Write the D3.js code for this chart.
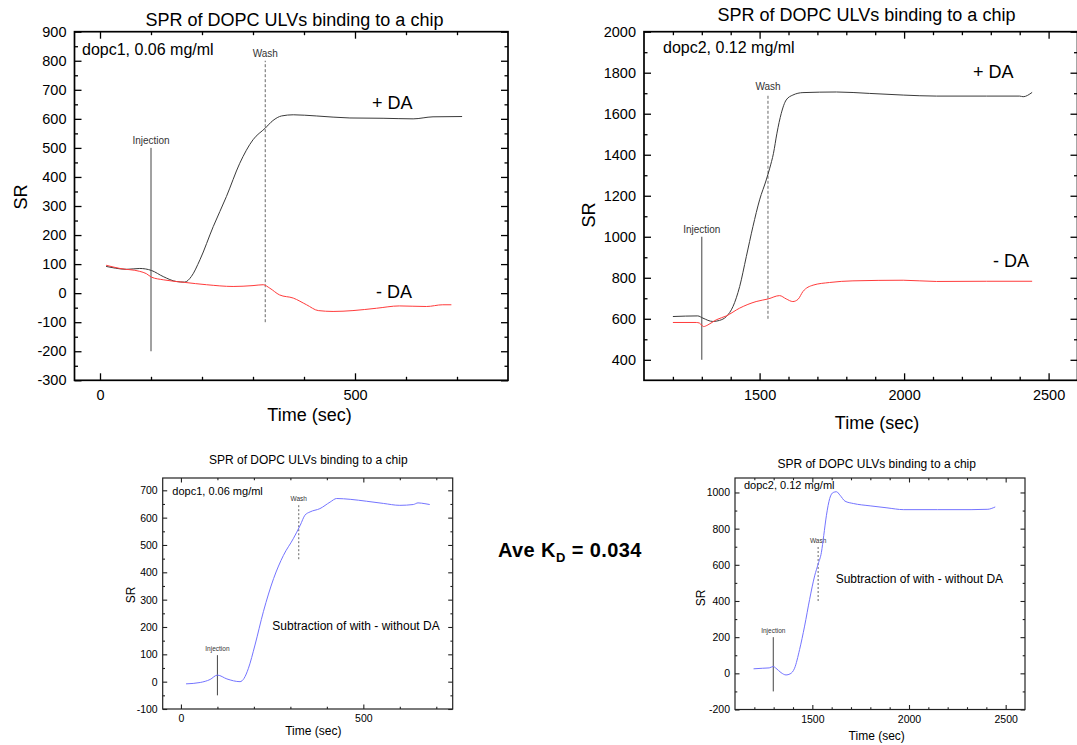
<!DOCTYPE html>
<html>
<head>
<meta charset="utf-8">
<script src="https://cdn.jsdelivr.net/npm/d3@7"></script>
<style>
body { margin: 0; background: #fff; }
text { font-family: "Liberation Sans", Arial, sans-serif; }
</style>
</head>
<body>
<script>
// ---- valori ----

// pannello 1: dopc1, 0.06 mg/ml (con / senza DA)
const dopc1PlusTime  = [12, 30, 52, 78, 101, 124, 150, 166, 179, 196, 222, 248, 274, 300, 324, 339, 356, 379, 424, 490, 555, 614, 653, 710];
const dopc1PlusSR    = [92, 86, 82, 85, 78, 57, 40, 38, 57, 115, 229, 333, 447, 528, 568, 594, 610, 614, 610, 603, 602, 600, 607, 608];
const dopc1MinusTime = [12, 39, 78, 91, 101, 124, 166, 209, 261, 300, 320, 333, 352, 379, 405, 428, 457, 496, 542, 587, 640, 672, 689];
const dopc1MinusSR   = [96, 85, 75, 67, 55, 46, 37, 29, 23, 26, 29, 17, -6, -17, -40, -60, -63, -60, -52, -44, -46, -40, -40];

// pannello 2: dopc2, 0.12 mg/ml
const dopc2PlusTime  = [1200, 1286, 1304, 1338, 1361, 1385, 1408, 1431, 1454, 1477, 1500, 1523, 1535, 1548, 1560, 1575, 1592, 1615, 1650, 1766, 1881, 1997, 2112, 2285, 2400, 2412, 2443];
const dopc2PlusSR    = [611, 614, 603, 587, 592, 611, 660, 757, 903, 1050, 1180, 1277, 1334, 1407, 1505, 1602, 1667, 1691, 1703, 1706, 1699, 1691, 1686, 1686, 1686, 1683, 1704];
const dopc2MinusTime = [1200, 1281, 1292, 1306, 1321, 1350, 1385, 1431, 1488, 1530, 1569, 1592, 1615, 1633, 1650, 1685, 1742, 1823, 1997, 2112, 2285, 2443];
const dopc2MinusSR   = [582, 582, 579, 562, 570, 595, 614, 652, 684, 697, 713, 697, 684, 695, 733, 764, 777, 785, 788, 782, 783, 783];

// pannello 3: sottrazione dopc1
const diff1Time = [14, 53, 80, 100, 126, 162, 173, 185, 203, 226, 254, 281, 308, 327, 340, 354, 381, 409, 427, 464, 509, 555, 600, 637, 650, 669, 682];
const diff1SR   = [-8, -3, 8, 24, 10, 0, 12, 49, 134, 256, 377, 462, 523, 572, 609, 621, 633, 657, 670, 667, 660, 652, 645, 648, 654, 651, 648];

// pannello 4: sottrazione dopc2
const diff2Time = [1196, 1243, 1277, 1298, 1312, 1338, 1364, 1385, 1408, 1434, 1460, 1486, 1512, 1530, 1547, 1559, 1573, 1590, 1608, 1625, 1643, 1669, 1712, 1799, 1886, 1973, 2147, 2321, 2408, 2425, 2446];
const diff2SR   = [25, 28, 30, 38, 28, 4, -9, -3, 28, 131, 261, 409, 539, 604, 669, 762, 874, 967, 1000, 1004, 985, 952, 939, 926, 915, 905, 905, 905, 907, 911, 920];

// injection / wash: [tempo, SR basso, SR alto]
const injection1 = [100, -200, 500];
const wash1      = [324, -100, 800];
const injection2 = [1300, 400, 1000];
const wash2      = [1529, 600, 1695];
const injection3 = [100, -50, 97];
const wash3      = [323, 448, 648];
const injection4 = [1298, -100, 200];
const wash4      = [1530, 400, 700];

// etichette degli assi
const ticksX1 = [0, 500];
const ticksY1 = [-300, -200, -100, 0, 100, 200, 300, 400, 500, 600, 700, 800, 900];
const ticksX2 = [1500, 2000, 2500];
const ticksY2 = [400, 600, 800, 1000, 1200, 1400, 1600, 1800, 2000];
const ticksX3 = [0, 500];
const ticksY3 = [-100, 0, 100, 200, 300, 400, 500, 600, 700];
const ticksX4 = [1500, 2000, 2500];
const ticksY4 = [-200, 0, 200, 400, 600, 800, 1000];

const kd = "0.034";

// ---- disegno ----
const width = 1077;
const height = 745;

var svg = d3.select("body")
    .append("svg")
    .attr("width", width)
    .attr("height", height)
    .style("background-color", "#fff");

function zip(t, v) {
    return t.map((d, i) => [d, v[i]]);
}

function drawPanel(p) {
    var x = d3.scaleLinear().domain(p.xDomain).range([p.left, p.right]);
    var y = d3.scaleLinear().domain(p.yDomain).range([p.bottom, p.top]);
    var g = svg.append("g");

    // tacche minori: multipli dello step, senza bordi e senza quelle maggiori
    function minors(domain, step, majors) {
        return d3.range(Math.ceil(domain[0] / step) * step, domain[1], step)
            .filter(v => v > domain[0] && v < domain[1] && !majors.includes(v));
    }
    var xMinor = minors(p.xDomain, p.xMinorStep, p.xTicks);
    var yMinor = minors(p.yDomain, p.yMinorStep, p.yTicks);

    function side(axisFn, scale, transform, values, len, pad) {
        var s = g.append("g")
            .attr("transform", transform)
            .call(axisFn(scale).tickValues(values).tickSizeInner(-len).tickSizeOuter(0)
                .tickPadding(pad == null ? 0 : pad)
                .tickFormat(pad == null ? () => "" : d => String(d)));
        s.select(".domain").remove();
        s.selectAll("line").attr("stroke", p.axisColor).attr("stroke-width", p.tickWidth);
        s.selectAll("text").attr("font-size", p.tickFont).attr("fill", "#000");
    }

    // assi con tacche verso l'interno su tutti e quattro i lati
    side(d3.axisBottom, x, "translate(0," + p.bottom + ")", p.xTicks, p.major, p.xPad);
    side(d3.axisBottom, x, "translate(0," + p.bottom + ")", xMinor, p.minor);
    side(d3.axisTop, x, "translate(0," + p.top + ")", p.xTicks, p.major);
    side(d3.axisTop, x, "translate(0," + p.top + ")", xMinor, p.minor);
    side(d3.axisLeft, y, "translate(" + p.left + ",0)", p.yTicks, p.major, p.yPad);
    side(d3.axisLeft, y, "translate(" + p.left + ",0)", yMinor, p.minor);
    side(d3.axisRight, y, "translate(" + p.right + ",0)", p.yTicks, p.major);
    side(d3.axisRight, y, "translate(" + p.right + ",0)", yMinor, p.minor);

    g.append("rect")
        .attr("x", p.left)
        .attr("y", p.top)
        .attr("width", p.right - p.left)
        .attr("height", p.bottom - p.top)
        .attr("fill", "none")
        .attr("stroke", p.axisColor)
        .attr("stroke-width", p.frameWidth);

    // linee verticali injection / wash
    p.markers.forEach(m => {
        g.append("line")
            .attr("x1", x(m.v[0])).attr("x2", x(m.v[0]))
            .attr("y1", y(m.v[1])).attr("y2", y(m.v[2]))
            .attr("stroke", m.dash ? "#666" : "#444")
            .attr("stroke-width", 1)
            .attr("stroke-dasharray", m.dash);
        g.append("text")
            .text(m.label)
            .attr("x", x(m.v[0]))
            .attr("y", y(m.v[2]) - 4)
            .attr("text-anchor", "middle")
            .attr("font-size", p.markerFont)
            .attr("fill", "#333");
    });

    // curve
    var line = d3.line()
        .x(d => x(d[0]))
        .y(d => y(d[1]))
        .curve(d3.curveMonotoneX);
    p.series.forEach(s => {
        g.append("path")
            .datum(zip(s.t, s.v))
            .attr("d", line)
            .attr("fill", "none")
            .attr("stroke", s.color)
            .attr("stroke-width", 1);
    });

    // testi
    g.append("text")
        .text("SPR of DOPC ULVs binding to a chip")
        .attr("x", p.title[0]).attr("y", p.title[1])
        .attr("text-anchor", "middle")
        .attr("font-size", p.title[2]);
    g.append("text")
        .text("Time (sec)")
        .attr("x", p.xLabel[0]).attr("y", p.xLabel[1])
        .attr("text-anchor", "middle")
        .attr("font-size", p.xLabel[2]);
    g.append("text")
        .text("SR")
        .attr("transform", "translate(" + p.yLabel[0] + "," + p.yLabel[1] + ") rotate(-90)")
        .attr("text-anchor", "middle")
        .attr("font-size", p.yLabel[2]);
    p.notes.forEach(n => {
        g.append("text")
            .text(n[0])
            .attr("x", n[1]).attr("y", n[2])
            .attr("font-size", n[3]);
    });
}

// pannello in alto a sinistra
drawPanel({
    left: 74.5, right: 508, top: 31.7, bottom: 380.3,
    xDomain: [-50, 800], yDomain: [-300, 900],
    xTicks: ticksX1, yTicks: ticksY1, xMinorStep: 100, yMinorStep: 50,
    major: 7, minor: 3.5, tickWidth: 1.3, frameWidth: 1.7, axisColor: "#000",
    tickFont: 14.5, xPad: 9, yPad: 8, markerFont: 10,
    markers: [
        { label: "Injection", v: injection1 },
        { label: "Wash", v: wash1, dash: "3,2" }
    ],
    series: [
        { t: dopc1PlusTime, v: dopc1PlusSR, color: "#3a3a3a" },
        { t: dopc1MinusTime, v: dopc1MinusSR, color: "#ff3b3b" }
    ],
    title: [294.5, 26, 18],
    xLabel: [309.5, 421, 18],
    yLabel: [26.5, 197, 18],
    notes: [
        ["dopc1, 0.06 mg/ml", 82, 55, 16],
        ["+ DA", 372, 109, 18],
        ["- DA", 376, 298, 18]
    ]
});

// pannello in alto a destra
drawPanel({
    left: 644, right: 1077.5, top: 31.7, bottom: 380.3,
    xDomain: [1100, 2600], yDomain: [300, 2000],
    xTicks: ticksX2, yTicks: ticksY2, xMinorStep: 100, yMinorStep: 100,
    major: 7, minor: 3.5, tickWidth: 1.3, frameWidth: 1.7, axisColor: "#000",
    tickFont: 14.5, xPad: 9, yPad: 8, markerFont: 10,
    markers: [
        { label: "Injection", v: injection2 },
        { label: "Wash", v: wash2, dash: "3,2" }
    ],
    series: [
        { t: dopc2PlusTime, v: dopc2PlusSR, color: "#3a3a3a" },
        { t: dopc2MinusTime, v: dopc2MinusSR, color: "#ff3b3b" }
    ],
    title: [866.5, 21, 18],
    xLabel: [877, 429, 18],
    yLabel: [595, 215, 18],
    notes: [
        ["dopc2, 0.12 mg/ml", 663, 53, 16],
        ["+ DA", 973, 78, 18],
        ["- DA", 993, 267, 18]
    ]
});

// pannello in basso a sinistra
drawPanel({
    left: 162.7, right: 452.7, top: 478, bottom: 709,
    xDomain: [-50, 745], yDomain: [-100, 745],
    xTicks: ticksX3, yTicks: ticksY3, xMinorStep: 100, yMinorStep: 50,
    major: 4.5, minor: 2.3, tickWidth: 1.1, frameWidth: 1.2, axisColor: "#222",
    tickFont: 10.5, xPad: 6, yPad: 5, markerFont: 6.5,
    markers: [
        { label: "Injection", v: injection3 },
        { label: "Wash", v: wash3, dash: "2,2" }
    ],
    series: [
        { t: diff1Time, v: diff1SR, color: "#7474ff" }
    ],
    title: [308.3, 463.5, 12],
    xLabel: [313.3, 735, 12],
    yLabel: [135, 595, 12],
    notes: [
        ["dopc1, 0.06 mg/ml", 172.3, 495, 11],
        ["Subtraction of with - without DA", 272.3, 630, 12]
    ]
});

// pannello in basso a destra
drawPanel({
    left: 735, right: 1025, top: 478, bottom: 709.5,
    xDomain: [1100, 2600], yDomain: [-200, 1080],
    xTicks: ticksX4, yTicks: ticksY4, xMinorStep: 100, yMinorStep: 100,
    major: 4.5, minor: 2.3, tickWidth: 1.1, frameWidth: 1.2, axisColor: "#222",
    tickFont: 10.5, xPad: 6, yPad: 5, markerFont: 6.5,
    markers: [
        { label: "Injection", v: injection4 },
        { label: "Wash", v: wash4, dash: "2,2" }
    ],
    series: [
        { t: diff2Time, v: diff2SR, color: "#7474ff" }
    ],
    title: [876.7, 468, 12],
    xLabel: [876.7, 740, 12],
    yLabel: [705, 598, 12],
    notes: [
        ["dopc2, 0.12 mg/ml", 744, 489, 11],
        ["Subtraction of with - without DA", 835.7, 583, 12]
    ]
});

// Ave K_D al centro
var kdText = svg.append("text")
    .attr("x", 498)
    .attr("y", 557)
    .attr("font-size", 20)
    .attr("font-weight", "bold")
    .attr("letter-spacing", 0.4);
kdText.append("tspan").text("Ave K");
kdText.append("tspan").text("D").attr("font-size", 13).attr("dy", 5);
kdText.append("tspan").text(" = " + kd).attr("dy", -5);
</script>
</body>
</html>
